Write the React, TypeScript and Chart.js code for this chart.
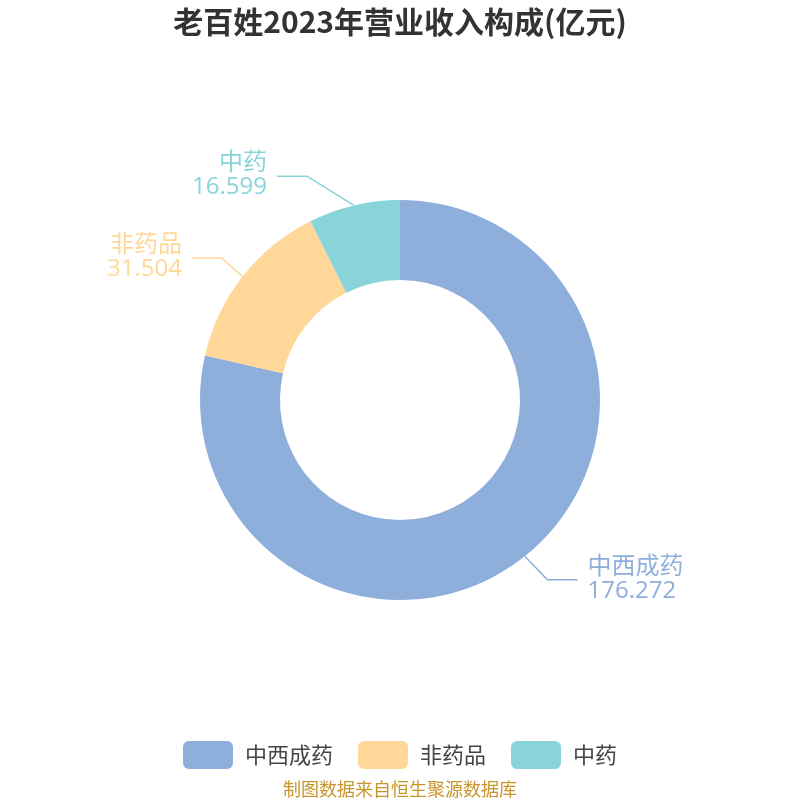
import React, { useEffect, useRef } from "react";
import { Chart, registerables } from "chart.js";

Chart.register(...registerables);

const titleText = "老百姓2023年营业收入构成(亿元)";
const categories = ["中西成药", "非药品", "中药"];
const values = [176.272, 31.504, 16.599];
const valueLabels = ["176.272", "31.504", "16.599"];
const colors = ["#8eaedb", "#ffd899", "#88d4d8"];
const sourceText = "制图数据来自恒生聚源数据库";

const FONT = '"Noto Sans CJK SC", "Noto Sans", sans-serif';
const LABEL_FONT = '"Open Sans", "Noto Sans CJK SC", sans-serif';
// extra horizontal shift of label elbows (layout style only)
const elbowShift = [4, 3, -40];

const overlayPlugin = {
  id: "overlay",
  afterDraw(chart: any) {
    const ctx = chart.ctx as CanvasRenderingContext2D;
    const W = chart.width;
    ctx.save();
    // title
    ctx.fillStyle = "#333333";
    ctx.font = `bold 30px ${FONT}`;
    ctx.textAlign = "center";
    ctx.textBaseline = "middle";
    ctx.fillText(titleText, W / 2, 22);

    // labels with leader lines
    const meta = chart.getDatasetMeta(0);
    meta.data.forEach((arc: any, i: number) => {
      const p = arc.getProps(["x", "y", "startAngle", "endAngle", "outerRadius"], true);
      const mid = (p.startAngle + p.endAngle) / 2;
      const sx = p.x + Math.cos(mid) * p.outerRadius;
      const sy = p.y + Math.sin(mid) * p.outerRadius;
      const r2 = p.outerRadius + 30;
      const ex = p.x + Math.cos(mid) * r2 + elbowShift[i];
      const ey = p.y + Math.sin(mid) * r2;
      const right = Math.cos(mid) >= 0;
      const hx = ex + (right ? 30 : -30);
      ctx.strokeStyle = colors[i];
      ctx.lineWidth = 1.5;
      ctx.beginPath();
      ctx.moveTo(sx, sy);
      ctx.lineTo(ex, ey);
      ctx.lineTo(hx, ey);
      ctx.stroke();
      ctx.fillStyle = colors[i];
      ctx.font = `24px ${LABEL_FONT}`;
      ctx.textAlign = right ? "left" : "right";
      ctx.textBaseline = "middle";
      const tx = hx + (right ? 10 : -10);
      ctx.fillText(categories[i], tx, ey - 13);
      ctx.fillText(valueLabels[i], tx, ey + 11);
    });

    // legend
    ctx.font = `22px ${FONT}`;
    const boxW = 50, boxH = 28, gap = 12, itemGap = 25;
    const widths = categories.map((c) => boxW + gap + ctx.measureText(c).width);
    const total = widths.reduce((a, b) => a + b, 0) + itemGap * (categories.length - 1);
    let x = W / 2 - total / 2;
    const ly = 755;
    categories.forEach((c, i) => {
      ctx.fillStyle = colors[i];
      ctx.beginPath();
      (ctx as any).roundRect(x, ly - boxH / 2, boxW, boxH, 6);
      ctx.fill();
      ctx.fillStyle = "#444444";
      ctx.textAlign = "left";
      ctx.textBaseline = "middle";
      ctx.fillText(c, x + boxW + gap, ly);
      x += widths[i] + itemGap;
    });

    // source
    ctx.fillStyle = "#c8952b";
    ctx.font = `18px ${FONT}`;
    ctx.textAlign = "center";
    ctx.textBaseline = "middle";
    ctx.fillText(sourceText, W / 2, 789);
    ctx.restore();
  },
};

export default function App() {
  const ref = useRef<HTMLCanvasElement>(null);
  useEffect(() => {
    document.body.style.margin = "0";
    const chart = new Chart(ref.current!, {
      type: "doughnut",
      data: {
        labels: categories,
        datasets: [
          {
            data: values,
            backgroundColor: colors,
            borderWidth: 0,
          },
        ],
      },
      options: {
        responsive: false,
        animation: false,
        radius: 200,
        cutout: "60%",
        layout: { padding: { top: 100, bottom: 100, left: 0, right: 0 } },
        plugins: {
          legend: { display: false },
          title: { display: false },
          tooltip: { enabled: false },
        },
      } as any,
      plugins: [overlayPlugin],
    });
    return () => chart.destroy();
  }, []);
  return <canvas ref={ref} width={800} height={800} style={{ display: "block" }} />;
}
